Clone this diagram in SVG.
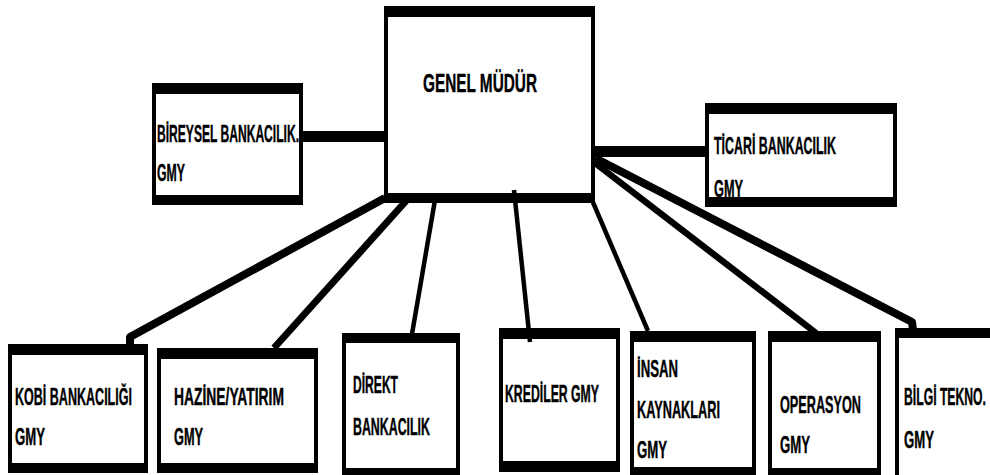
<svg xmlns="http://www.w3.org/2000/svg" width="990" height="475" viewBox="0 0 990 475">
  <style>
    .frame { fill: #000; }
    .face { fill: #fff; }
    .lbl { font-family: "Liberation Sans", "DejaVu Sans", sans-serif; font-weight: bold; font-size: 23px; fill: #000; stroke: #000; stroke-width: 0.4px; }
    .big { font-size: 25px; }
    .link { stroke: #000; fill: none; stroke-linecap: butt; }
  </style>
  <rect width="990" height="475" fill="#fff"/>

  <!-- Boxes: thick black top/bottom rule, thin sides -->
  <g id="genel-mudur">
    <rect class="frame" x="384" y="6" width="211" height="197"/>
    <rect class="face" x="388" y="17" width="203" height="176"/>
    <text class="lbl big" x="423" y="92" textLength="114" lengthAdjust="spacingAndGlyphs">GENEL MÜDÜR</text>
  </g>

  <g id="bireysel">
    <rect class="frame" x="152" y="83" width="151" height="122"/>
    <rect class="face" x="156" y="94" width="143" height="101"/>
    <text class="lbl" x="157" y="142" textLength="142" lengthAdjust="spacingAndGlyphs">BİREYSEL BANKACILIK.</text>
    <text class="lbl" x="157" y="181" textLength="28" lengthAdjust="spacingAndGlyphs">GMY</text>
  </g>

  <g id="ticari">
    <rect class="frame" x="705" y="103" width="192" height="104"/>
    <rect class="face" x="709" y="114" width="184" height="83"/>
    <text class="lbl" x="714" y="154" textLength="122" lengthAdjust="spacingAndGlyphs">TİCARİ BANKACILIK</text>
    <text class="lbl" x="714" y="197" textLength="29" lengthAdjust="spacingAndGlyphs">GMY</text>
  </g>

  <g id="kobi">
    <rect class="frame" x="8" y="344" width="140" height="129"/>
    <rect class="face" x="12" y="355" width="132" height="108"/>
    <text class="lbl" x="15" y="405" textLength="117" lengthAdjust="spacingAndGlyphs">KOBİ BANKACILIĞI</text>
    <text class="lbl" x="15" y="445" textLength="30" lengthAdjust="spacingAndGlyphs">GMY</text>
  </g>

  <g id="hazine">
    <rect class="frame" x="157" y="348" width="161" height="125"/>
    <rect class="face" x="161" y="359" width="153" height="104"/>
    <text class="lbl" x="174" y="405" textLength="110" lengthAdjust="spacingAndGlyphs">HAZİNE/YATIRIM</text>
    <text class="lbl" x="174" y="445" textLength="29" lengthAdjust="spacingAndGlyphs">GMY</text>
  </g>

  <g id="direkt">
    <rect class="frame" x="342" y="333" width="118" height="147"/>
    <rect class="face" x="346" y="343" width="110" height="125"/>
    <text class="lbl" x="353" y="393" textLength="45" lengthAdjust="spacingAndGlyphs">DİREKT</text>
    <text class="lbl" x="353" y="435" textLength="77" lengthAdjust="spacingAndGlyphs">BANKACILIK</text>
  </g>

  <g id="krediler">
    <rect class="frame" x="499" y="328" width="121" height="144"/>
    <rect class="face" x="503" y="339" width="113" height="122"/>
    <text class="lbl" x="505" y="402" textLength="94" lengthAdjust="spacingAndGlyphs">KREDİLER GMY</text>
  </g>

  <g id="insan-kaynaklari">
    <rect class="frame" x="630" y="331" width="126" height="150"/>
    <rect class="face" x="634" y="342" width="118" height="125"/>
    <text class="lbl" x="637" y="377" textLength="41" lengthAdjust="spacingAndGlyphs">İNSAN</text>
    <text class="lbl" x="637" y="418" textLength="83" lengthAdjust="spacingAndGlyphs">KAYNAKLARI</text>
    <text class="lbl" x="637" y="458" textLength="30" lengthAdjust="spacingAndGlyphs">GMY</text>
  </g>

  <g id="operasyon">
    <rect class="frame" x="768" y="331" width="113" height="150"/>
    <rect class="face" x="772" y="342" width="105" height="126"/>
    <text class="lbl" x="780" y="413" textLength="81" lengthAdjust="spacingAndGlyphs">OPERASYON</text>
    <text class="lbl" x="780" y="453" textLength="30" lengthAdjust="spacingAndGlyphs">GMY</text>
  </g>

  <g id="bilgi-tekno">
    <rect class="frame" x="895" y="328" width="110" height="160"/>
    <rect class="face" x="899" y="338" width="106" height="150"/>
    <text class="lbl" x="904" y="405" textLength="82" lengthAdjust="spacingAndGlyphs">BİLGİ TEKNO.</text>
    <text class="lbl" x="904" y="448" textLength="30" lengthAdjust="spacingAndGlyphs">GMY</text>
  </g>

  <!-- Reporting lines from the general manager -->
  <g id="connectors">
    <line class="link" x1="303" y1="136.5" x2="386" y2="136.5" stroke-width="11"/>
    <line class="link" x1="593" y1="151.5" x2="705" y2="151.5" stroke-width="11"/>
    <polyline class="link" points="385,198 130,337 130,345" stroke-width="8" stroke-linejoin="round"/>
    <line class="link" x1="406" y1="201" x2="274" y2="348" stroke-width="7"/>
    <line class="link" x1="435" y1="200" x2="412" y2="334" stroke-width="4.5"/>
    <line class="link" x1="514" y1="190" x2="530" y2="342" stroke-width="4.5"/>
    <line class="link" x1="592" y1="200" x2="648" y2="331" stroke-width="4.5"/>
    <line class="link" x1="595" y1="163" x2="816" y2="333" stroke-width="6.5"/>
    <polyline class="link" points="595,158 912,322 913,330" stroke-width="8" stroke-linejoin="round"/>
  </g>
</svg>
